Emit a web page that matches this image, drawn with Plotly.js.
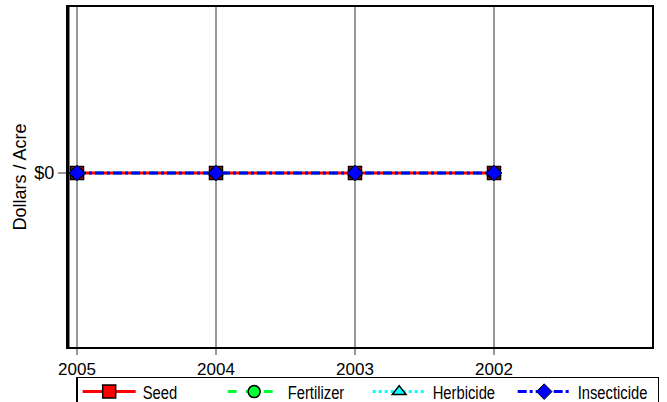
<!DOCTYPE html>
<html>
<head>
<meta charset="utf-8">
<script src="https://cdn.plot.ly/plotly-3.0.1.min.js"></script>
<style>html,body{margin:0;padding:0;background:#fff;}#chart{width:667px;height:402px;}</style>
</head>
<body>
<div id="chart"></div>
<script>
const years = ["2005", "2004", "2003", "2002"];
const seed = [0, 0, 0, 0];
const fertilizer = [0, 0, 0, 0];
const herbicide = [0, 0, 0, 0];
const insecticide = [0, 0, 0, 0];
const yTickVals = [0];
const yTickText = ["$0"];

const xpos = years.map((y, i) => i);

const traces = [
  {name: "Seed", y: seed, line: {color: "#ff0000", width: 3, dash: "solid"},
   marker: {symbol: "square", size: 13, color: "#ff0000", line: {color: "#000", width: 1.5}}},
  {name: "Fertilizer", y: fertilizer, line: {color: "#00ff33", width: 3, dash: "dash"},
   marker: {symbol: "circle", size: 12, color: "#00ff33", line: {color: "#000", width: 1.5}}},
  {name: "Herbicide", y: herbicide, line: {color: "#00ffff", width: 3, dash: "dot"},
   marker: {symbol: "triangle-up", size: 12, color: "#00ffff", line: {color: "#000", width: 1.5}}},
  {name: "Insecticide", y: insecticide, line: {color: "#0000ff", width: 3, dash: "dashdot"},
   marker: {symbol: "diamond", size: 12, color: "#0000ff", line: {color: "#000", width: 1}}}
].map(t => Object.assign({x: xpos, type: "scatter", mode: "lines+markers"}, t));

const layout = {
  width: 667, height: 402,
  margin: {l: 68, r: 15, t: 7, b: 55, autoexpand: false},
  paper_bgcolor: "#fff", plot_bgcolor: "#fff",
  font: {family: "Liberation Sans, Arial, sans-serif", size: 17, color: "#000"},
  showlegend: true,
  xaxis: {
    range: [-9/139, 575/139], tickvals: xpos, ticktext: years,
    showgrid: true, gridcolor: "#999", gridwidth: 1.5,
    showline: true, linecolor: "#000", linewidth: 2, mirror: true,
    ticks: "outside", ticklen: 6, tickcolor: "#999", tickwidth: 1.5,
    tickfont: {size: 17}, zeroline: false, fixedrange: true
  },
  yaxis: {
    range: [-1.048, 1], tickvals: yTickVals, ticktext: yTickText,
    showgrid: false, zeroline: false,
    showline: true, linecolor: "#000", linewidth: 2, mirror: true,
    ticks: "outside", ticklen: 8, tickcolor: "#999", tickwidth: 1.5,
    tickfont: {size: 18},
    title: {text: "Dollars / Acre", font: {size: 18}, standoff: 3}
  },
  shapes: [
    {type: "line", xref: "paper", yref: "paper", x0: 0, x1: 0, y0: 0, y1: 1,
     line: {color: "#000", width: 3}}
  ],
  legend: {
    orientation: "h", x: 0.014, xanchor: "left", y: -0.088, yanchor: "top",
    bordercolor: "#000", borderwidth: 1.5, bgcolor: "#fff",
    entrywidth: 75, entrywidthmode: "pixels", itemwidth: 55,
    font: {family: "Liberation Sans, Arial, sans-serif", size: 18},
    traceorder: "normal", itemclick: false
  }
};

Plotly.newPlot("chart", traces, layout, {displayModeBar: false, staticPlot: true}).then(gd => {
  gd.querySelectorAll(".legend .traces").forEach(g => {
    const t = g.querySelector(".legendtext");
    if (!t) return;
    // condensed legend lettering, like the reference's narrow face
    const w = t.getComputedTextLength();
    t.setAttribute("textLength", (w * 0.82).toFixed(1));
    t.setAttribute("lengthAdjust", "spacingAndGlyphs");
    const tx = parseFloat(t.getAttribute("x")) || 40;
    const lineEnd = tx - 7;
    const mid = (5 + lineEnd) / 2;
    g.querySelectorAll(".legendlines path").forEach(p => p.setAttribute("d", "M5,0h" + (lineEnd - 5)));
    g.querySelectorAll(".legendpoints path").forEach(p => p.setAttribute("transform", "translate(" + mid + ",0)"));
    // lift the row a little inside the box, as in the reference
    const tr = g.getAttribute("transform") || "";
    const m = tr.match(/translate\(\s*([-\d.]+)[ ,]+([-\d.]+)\s*\)/);
    if (m) g.setAttribute("transform", "translate(" + m[1] + "," + (parseFloat(m[2]) - 5) + ")");
  });
});
</script>
</body>
</html>
